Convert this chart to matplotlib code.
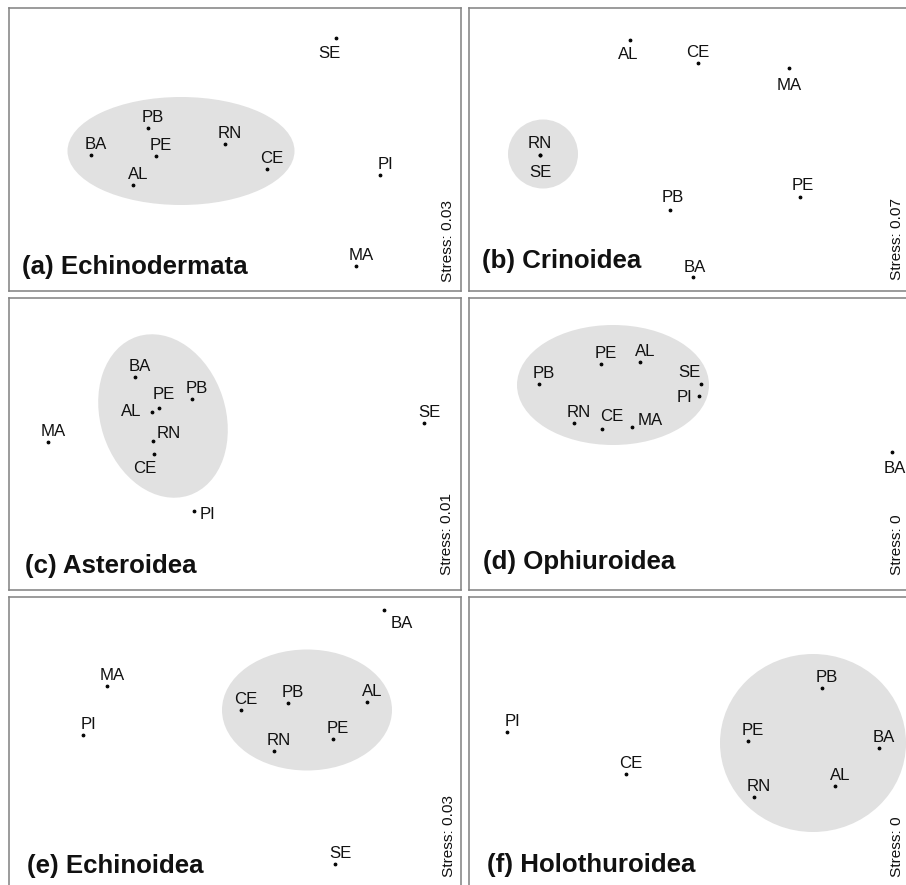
import matplotlib.pyplot as plt
from matplotlib.patches import Ellipse

plt.rcParams['font.family'] = ['Liberation Sans', 'DejaVu Sans']

# nMDS site scores per taxon (plot units, y measured downward)
sites_a = ["SE", "PB", "BA", "PE", "RN", "CE", "AL", "PI", "MA"]
x_a = [327, 139, 82, 147, 216, 258, 124, 371, 347]
y_a = [30, 120, 147, 148, 136, 161, 177, 167, 258]

sites_b = ["AL", "CE", "MA", "RN", "SE", "PB", "PE", "BA"]
x_b = [161, 229, 320, 71, 71, 201, 331, 224]
y_b = [32, 55, 60, 147, 147, 202, 189, 269]

sites_c = ["BA", "PE", "AL", "PB", "RN", "CE", "MA", "PI", "SE"]
x_c = [126, 150, 143, 183, 144, 145, 39, 185, 415]
y_c = [79, 110, 114, 101, 143, 156, 144, 213, 125]

sites_d = ["PB", "PE", "AL", "SE", "PI", "RN", "CE", "MA", "BA"]
x_d = [70, 132, 171, 232, 230, 105, 133, 163, 423]
y_d = [86, 66, 64, 86, 98, 125, 131, 129, 154]

sites_e = ["BA", "MA", "PI", "CE", "PB", "AL", "PE", "RN", "SE"]
x_e = [375, 98, 74, 232, 279, 358, 324, 265, 326]
y_e = [13, 89, 138, 113, 106, 105, 142, 154, 267]

sites_f = ["PI", "CE", "PB", "PE", "BA", "AL", "RN"]
x_f = [38, 157, 353, 279, 410, 366, 285]
y_f = [135, 177, 91, 144, 151, 189, 200]

titles = ["(a) Echinodermata", "(b) Crinoidea", "(c) Asteroidea",
          "(d) Ophiuroidea", "(e) Echinoidea", "(f) Holothuroidea"]
stress = ["Stress: 0.03", "Stress: 0.07", "Stress: 0.01",
          "Stress: 0", "Stress: 0.03", "Stress: 0"]

# cluster ellipses: centre x, centre y, width, height, angle
groups = [
    (172, 143, 227, 108, 0),
    (74, 146, 70, 69, 0),
    (154, 118, 125, 167, -18),
    (144, 87, 192, 120, 0),
    (298, 113, 170, 121, 0),
    (344, 146, 186, 178, 0),
]

# label placement (label centre relative to the point, pixels, y down)
default_off = (5, -12)
label_off = [
    {"SE": (-7, 14)},
    {"AL": (-2, 13), "CE": (0, -12), "MA": (0, 16), "RN": (0, -13),
     "SE": (0, 16), "PB": (3, -14), "PE": (3, -13), "BA": (2, -11)},
    {"PE": (5, -15), "AL": (-21, -2), "RN": (16, -9), "CE": (-9, 13),
     "PI": (13, 2)},
    {"SE": (-12, -13), "PI": (-15, 0), "CE": (10, -14), "MA": (18, -8),
     "BA": (3, 15)},
    {"BA": (18, 12)},
    {},
]

# frame layout in pixels: left, top, width, height
W, H = 906, 885
frames = [(9, 8, 452, 283), (469, 8, 452, 283),
          (9, 298, 452, 292), (469, 298, 452, 292),
          (9, 597, 452, 292), (469, 597, 452, 292)]
title_pos = [(13, 266), (13, 260), (16, 275), (14, 271), (18, 276), (18, 275)]
stress_pos = [(439, 274), (428, 272), (438, 277), (428, 277), (440, 280), (428, 280)]

data = [(sites_a, x_a, y_a), (sites_b, x_b, y_b), (sites_c, x_c, y_c),
        (sites_d, x_d, y_d), (sites_e, x_e, y_e), (sites_f, x_f, y_f)]

fig = plt.figure(figsize=(W / 72, H / 72), dpi=72)
fig.patch.set_facecolor("white")

for i, (sites, xs, ys) in enumerate(data):
    left, top, w, h = frames[i]
    ax = fig.add_axes([left / W, (H - top - h) / H, w / W, h / H])
    ax.set_xlim(0, w)
    ax.set_ylim(h, 0)
    ax.set_xticks([])
    ax.set_yticks([])
    for sp in ax.spines.values():
        sp.set_color("#858585")
        sp.set_linewidth(1.6)

    cx, cy, ew, eh, ang = groups[i]
    ax.add_patch(Ellipse((cx, cy), ew, eh, angle=ang, facecolor="#e1e1e1",
                         edgecolor="none", zorder=1))

    ax.plot(xs, ys, "o", color="black", markersize=2.8, zorder=3)
    for s, x, y in zip(sites, xs, ys):
        dx, dy = label_off[i].get(s, default_off)
        ax.annotate(s, (x, y), xytext=(dx, -(dy + 6)), textcoords="offset points",
                    ha="center", va="baseline", fontsize=16.7, color="#111111",
                    zorder=4)

    tx, ty = title_pos[i]
    ax.text(tx, ty, titles[i], fontsize=25.9, fontweight="bold",
            ha="left", va="baseline", color="#111111", zorder=4)
    sx, sy = stress_pos[i]
    ax.text(sx, sy, stress[i], fontsize=15.4, rotation=90,
            ha="center", va="bottom", color="#111111", zorder=4)

fig.savefig("out.png", dpi=72, facecolor="white")
